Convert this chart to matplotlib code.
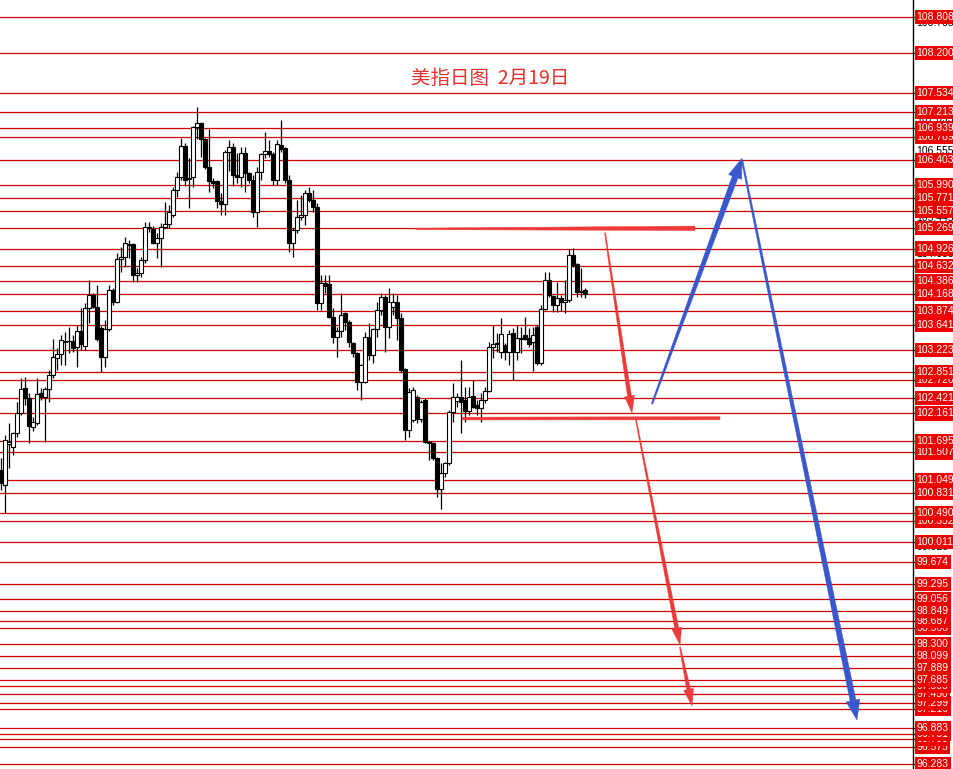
import matplotlib
matplotlib.use("Agg")
import matplotlib.pyplot as plt
from matplotlib.patches import Rectangle, Polygon
from matplotlib.transforms import blended_transform_factory
import numpy as np

# ---------------- data ----------------
opens = [101.21, 100.96, 101.65, 101.60, 101.83, 102.17, 102.59, 102.42, 101.93, 102.00,
         102.50, 102.44, 102.57, 102.80, 103.09, 103.16, 103.36, 103.37, 103.37, 103.28,
         103.54, 103.29, 103.93, 104.15, 103.95, 103.59, 103.11, 103.58, 104.23, 104.03,
         104.75, 104.78, 104.99, 105.00, 104.48, 104.52, 104.73, 105.27, 105.25, 105.02,
         105.10, 105.29, 105.34, 105.49, 105.91, 106.12, 106.64, 106.11, 106.12, 106.96,
         107.03, 106.76, 106.29, 106.06, 106.06, 105.72, 105.67, 106.54, 106.63, 106.16,
         106.12, 106.53, 106.19, 106.07, 105.54, 106.21, 106.51, 106.56, 106.51, 106.07,
         106.66, 106.61, 106.07, 105.02, 105.24, 105.45, 105.49, 105.86, 105.74, 105.62,
         104.01, 104.35, 104.33, 103.78, 103.44, 103.54, 103.85, 103.70, 103.34, 103.17,
         102.69, 102.69, 103.44, 103.14, 103.58, 103.90, 104.11, 103.61, 103.95, 104.03,
         103.76, 102.91, 101.88, 102.05, 102.44, 102.07, 102.39, 101.68, 101.67, 101.41,
         100.89, 101.16, 101.33, 102.18, 102.37, 102.44, 102.39, 102.20, 102.45, 102.30,
         102.25, 102.39, 102.54, 103.27, 103.34, 103.19, 103.31, 103.19, 103.51, 103.19,
         103.41, 103.48, 103.43, 103.36, 103.61, 103.01, 103.91, 104.40, 104.13, 103.98,
         104.10, 104.03, 104.06, 104.82, 104.67, 104.21, 104.23]
highs = [101.41, 101.80, 102.00, 101.85, 102.35, 102.75, 102.77, 102.50, 102.10, 102.75,
         102.59, 102.60, 102.89, 103.41, 103.26, 103.48, 103.53, 103.61, 103.48, 103.64,
         103.93, 104.01, 104.40, 104.18, 104.31, 103.63, 103.73, 104.31, 104.26, 104.85,
         104.95, 105.12, 105.07, 105.02, 104.60, 104.78, 105.37, 105.37, 105.30, 105.19,
         105.35, 105.71, 105.66, 105.96, 106.21, 106.78, 106.70, 106.44, 106.98, 107.30,
         107.05, 106.78, 106.93, 106.11, 106.07, 105.86, 106.58, 106.75, 106.70, 106.53,
         106.63, 106.63, 106.21, 106.16, 106.29, 106.53, 106.88, 106.75, 106.54, 106.75,
         107.08, 106.63, 106.16, 105.27, 105.74, 105.82, 105.91, 105.96, 105.91, 105.69,
         104.48, 104.48, 104.48, 103.93, 103.61, 104.18, 103.86, 103.73, 103.36, 103.19,
         102.99, 103.53, 103.68, 103.59, 104.03, 104.18, 104.15, 104.26, 104.18, 104.15,
         103.85, 102.92, 102.59, 102.60, 102.47, 102.39, 102.42, 101.70, 101.68, 101.43,
         101.33, 101.35, 102.22, 102.67, 102.50, 103.06, 102.60, 102.60, 102.72, 102.39,
         102.50, 102.60, 103.36, 103.64, 103.51, 103.76, 103.34, 103.56, 103.59, 103.64,
         103.61, 103.78, 103.59, 103.61, 103.64, 103.98, 104.53, 104.53, 104.15, 104.36,
         104.15, 104.40, 104.92, 104.93, 104.68, 104.60, 104.26]
lows = [100.88, 100.49, 101.25, 101.46, 101.77, 102.13, 102.30, 101.67, 101.87, 101.97,
        102.39, 101.68, 102.35, 102.75, 102.89, 102.97, 102.97, 103.17, 103.19, 102.94,
        103.22, 103.22, 103.68, 103.93, 103.38, 102.86, 102.94, 103.54, 103.98, 104.01,
        104.53, 104.62, 104.77, 104.37, 104.37, 104.45, 104.68, 105.20, 105.00, 104.77,
        104.62, 105.27, 105.27, 105.45, 105.79, 106.07, 105.97, 105.61, 105.96, 106.76,
        106.46, 106.26, 105.87, 105.94, 105.61, 105.49, 105.49, 106.23, 105.97, 106.02,
        105.96, 105.87, 106.02, 105.45, 105.29, 106.07, 106.44, 106.46, 105.99, 105.99,
        106.54, 106.02, 104.87, 104.78, 105.19, 105.40, 105.32, 105.71, 105.54, 103.90,
        103.90, 104.18, 103.76, 103.34, 103.11, 103.44, 103.56, 103.27, 103.11, 102.55,
        102.39, 102.67, 103.06, 103.01, 103.44, 103.81, 103.19, 103.43, 103.81, 103.39,
        102.86, 101.72, 101.77, 102.02, 102.00, 102.02, 101.67, 101.38, 101.38, 100.76,
        100.56, 101.09, 101.30, 102.02, 102.27, 101.83, 102.02, 102.13, 102.25, 102.13,
        102.02, 102.34, 102.52, 103.09, 103.19, 103.09, 103.06, 102.97, 102.72, 103.06,
        103.17, 103.39, 103.27, 102.87, 102.97, 102.97, 103.90, 104.11, 103.86, 103.86,
        103.88, 103.85, 104.03, 104.62, 104.11, 104.11, 104.09]
closes = [100.99, 101.72, 101.68, 101.83, 102.17, 102.57, 102.42, 101.95, 102.02, 102.49,
          102.44, 102.57, 102.80, 103.11, 103.16, 103.39, 103.37, 103.38, 103.26, 103.54,
          103.32, 103.93, 104.15, 103.95, 103.41, 103.11, 103.58, 104.23, 104.03, 104.75,
          104.78, 105.02, 105.01, 104.48, 104.52, 104.73, 105.29, 105.29, 105.02, 105.10,
          105.29, 105.34, 105.54, 105.91, 106.12, 106.64, 106.07, 106.09, 106.96, 107.03,
          106.76, 106.29, 106.06, 106.02, 105.72, 105.67, 106.54, 106.63, 106.16, 106.12,
          106.53, 106.19, 106.07, 105.54, 106.21, 106.51, 106.56, 106.51, 106.07, 106.68,
          106.60, 106.07, 105.02, 105.24, 105.45, 105.49, 105.86, 105.74, 105.62, 104.01,
          104.35, 104.30, 103.78, 103.44, 103.54, 103.81, 103.70, 103.36, 103.17, 102.69,
          102.97, 103.44, 103.14, 103.58, 103.90, 104.11, 103.61, 104.03, 104.03, 103.76,
          102.89, 101.88, 102.52, 102.55, 102.07, 102.35, 101.68, 101.66, 101.41, 100.89,
          101.16, 101.33, 102.18, 102.44, 102.44, 102.35, 102.20, 102.44, 102.27, 102.25,
          102.39, 102.54, 103.27, 103.33, 103.32, 103.49, 103.19, 103.49, 103.19, 103.43,
          103.43, 103.41, 103.32, 103.48, 103.01, 103.91, 104.40, 104.15, 103.98, 104.10,
          104.03, 104.06, 104.82, 104.65, 104.20, 104.20, 104.16]

# red horizontal levels with labels
levels = [108.808, 108.200, 107.534, 107.213, 106.939, 106.789, 106.403, 105.990,
          105.771, 105.557, 105.269, 104.926, 104.632, 104.386, 104.168, 103.874,
          103.641, 103.223, 102.851, 102.720, 102.421, 102.161, 101.695, 101.507,
          101.049, 100.831, 100.490, 100.352, 100.011, 99.674, 99.295, 99.056,
          98.849, 98.687, 98.568, 98.300, 98.099, 97.889, 97.685, 97.593, 97.450,
          97.299, 97.210, 96.883, 96.781, 96.700, 96.575, 96.283]
# regular (black) price-axis ticks, mostly hidden behind the red labels
axis_ticks = [108.705, 107.550, 107.095, 106.555, 105.445, 104.835, 104.275,
              103.760, 102.100, 99.925, 97.150]

title = "美指日图  2月19日"

# annotations: (x0, y0) -> (x1, y1) in candle-index / price units
red_bars = [((103.75, 105.255), (173.5, 105.265), 1.5, 4.5),
            ((115.25, 102.075), (179.75, 102.080), 2.8, 3.2)]
red_arrows = [((151.0, 105.19), (157.75, 102.17)),
              ((158.75, 102.05), (169.75, 98.28)),
              ((169.75, 98.245), (172.75, 97.255))]
blue_arrows = [((162.75, 102.32), (185.25, 106.44)),
               ((185.25, 106.41), (214.0, 97.02))]

# ---------------- figure ----------------
plt.rcParams['font.family'] = ['Noto Sans CJK SC', 'DejaVu Sans']
fig = plt.figure(figsize=(9.54, 7.69), dpi=100)
fig.patch.set_facecolor('white')
ax = fig.add_axes([0, 0, 913 / 954, 1])
ax.set_xlim(-0.25, 228)
ax.set_ylim(96.199, 109.093)
ax.set_xticks([])
ax.set_yticks([])
for s in ['top', 'left', 'bottom']:
    ax.spines[s].set_visible(False)
ax.spines['right'].set_color('black')
ax.spines['right'].set_linewidth(1.0)

LINE_RED = '#d00000'
for lv in levels:
    ax.axhline(lv, color=LINE_RED, lw=0.9, zorder=1)

# candles
n = len(opens)
for i in range(n):
    o, h, l, c = opens[i], highs[i], lows[i], closes[i]
    ax.plot([i, i], [l, h], color='black', lw=0.9, zorder=3, solid_capstyle='butt')
    bot = min(o, c)
    hgt = max(abs(c - o), 0.012)
    face = 'white' if c >= o else 'black'
    ax.add_patch(Rectangle((i - 0.4, bot), 0.8, hgt, facecolor=face,
                           edgecolor='black', lw=0.8, zorder=4))

# right-side labels
tr = blended_transform_factory(ax.transAxes, ax.transData)
for t in axis_ticks:
    ax.text(1.004, t, f"{t:.3f}", transform=tr, ha='left', va='center',
            fontsize=7.5, family='Liberation Sans', color='black', zorder=5,
            clip_on=False)
for lv in sorted(levels):
    ax.plot([1.0, 1.004], [lv, lv], transform=tr, color='black', lw=0.8,
            clip_on=False, zorder=5)
    ax.text(1.004, lv, f"{lv:.3f}", transform=tr, ha='left', va='center',
            fontsize=7.5, family='Liberation Sans', color='white', zorder=6,
            clip_on=False,
            bbox=dict(boxstyle='square,pad=0.2', fc='#ee0000', ec='none'))

ax.text(490 / 913, 1 - 78 / 769, title, transform=ax.transAxes, ha='center',
        va='center', fontsize=14, color='#e8302c', zorder=7)

# tapered arrows drawn in pixel space
fig.canvas.draw()
T = ax.transData


def taper(p0, p1, w0, w1, head_len, head_w, color):
    a = T.transform(p0)
    b = T.transform(p1)
    d = b - a
    L = np.hypot(d[0], d[1])
    u = d / L
    nv = np.array([-u[1], u[0]])
    if head_len > 0:
        hb = b - u * head_len
        pts = [a + nv * w0 / 2, hb + nv * w1 / 2, hb + nv * head_w / 2, b,
               hb - nv * head_w / 2, hb - nv * w1 / 2, a - nv * w0 / 2]
    else:
        pts = [a + nv * w0 / 2, b + nv * w1 / 2, b - nv * w1 / 2, a - nv * w0 / 2]
    pts = T.inverted().transform(np.array(pts))
    ax.add_patch(Polygon(pts, closed=True, facecolor=color, edgecolor=color,
                         lw=0.3, zorder=8))


ARROW_RED = '#f03a3a'
ARROW_BLUE = '#3a57cc'
for p0, p1, w0, w1 in red_bars:
    taper(p0, p1, w0, w1, 0, 0, ARROW_RED)
for p0, p1 in red_arrows:
    taper(p0, p1, 1.0, 4.0, 17, 10, ARROW_RED)
for p0, p1 in blue_arrows:
    taper(p0, p1, 1.5, 6.0, 20, 14, ARROW_BLUE)

fig.savefig('out.png', dpi=100, facecolor='white')
